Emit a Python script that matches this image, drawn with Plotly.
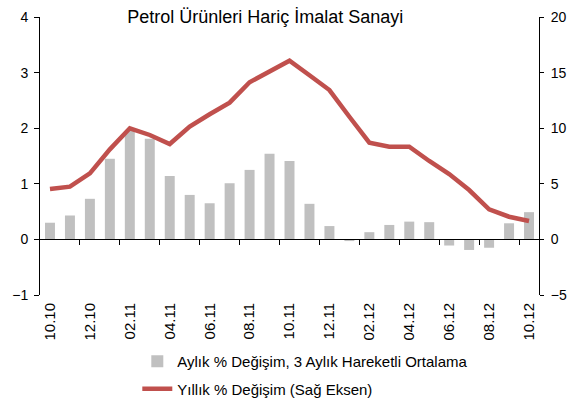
import plotly.graph_objects as go

months = ["10.10", "11.10", "12.10", "01.11", "02.11", "03.11", "04.11", "05.11", "06.11",
          "07.11", "08.11", "09.11", "10.11", "11.11", "12.11", "01.12", "02.12", "03.12",
          "04.12", "05.12", "06.12", "07.12", "08.12", "09.12", "10.12"]
monthly_ma = [0.30, 0.43, 0.73, 1.45, 1.95, 1.81, 1.14, 0.80, 0.65, 1.01, 1.25, 1.54, 1.41,
              0.64, 0.24, -0.03, 0.13, 0.26, 0.32, 0.31, -0.11, -0.19, -0.15, 0.29, 0.49]
annual = [4.53, 4.74, 5.94, 8.1, 9.99, 9.39, 8.58, 10.14, 11.25, 12.3, 14.13, 15.14, 16.07,
          14.76, 13.43, 11.03, 8.7, 8.34, 8.34, 7.05, 5.88, 4.44, 2.71, 2.04, 1.65]
tick_labels = months[::2]
boundary_ticks = [i + 0.5 for i in range(1, len(months) - 1, 2)]

font = "Liberation Sans, Arial, sans-serif"

fig = go.Figure()
fig.add_trace(go.Bar(x=months, y=monthly_ma, name="Aylık % Değişim, 3 Aylık Hareketli Ortalama",
                     marker=dict(color="#C0C0C0", line=dict(width=0)), yaxis="y",
                     legendgroup="a"))
fig.add_trace(go.Scatter(x=months, y=annual, name="Yıllık % Değişim (Sağ Eksen)", mode="lines",
                         line=dict(color="#C0504D", width=4.5), yaxis="y2", legendgroup="b"))
# invisible helper so the zero-level axis (xaxis2) is rendered
fig.add_trace(go.Scatter(x=[0], y=[0], xaxis="x2", yaxis="y", mode="markers",
                         marker=dict(opacity=0, size=1), showlegend=False, hoverinfo="skip"))

fig.update_layout(
    template="none",
    width=574, height=404,
    margin=dict(l=40, r=35, t=17, b=109, autoexpand=False),
    paper_bgcolor="white", plot_bgcolor="white",
    font=dict(family=font, size=14, color="black"),
    bargap=0.5,
    title=dict(text="Petrol Ürünleri Hariç İmalat Sanayi", x=0.462, xanchor="center",
               xref="container",
               y=0.958, yanchor="middle", font=dict(size=18, color="black", family=font)),
    xaxis=dict(type="category", range=[-0.5, len(months) - 0.5], tickmode="array",
               tickvals=tick_labels, ticktext=tick_labels, tickangle=-90, ticks="",
               ticklabelstandoff=4, automargin=False, tickfont=dict(size=15),
               showline=False, showgrid=False, zeroline=False),
    xaxis2=dict(type="linear", overlaying="x", anchor="free", position=0.2,
                range=[-0.5, len(months) - 0.5], automargin=False,
                tickmode="array", tickvals=boundary_ticks, ticks="outside", ticklen=5,
                tickcolor="black", showticklabels=False, showline=True, linecolor="black",
                linewidth=1, showgrid=False, zeroline=False),
    yaxis=dict(range=[-1, 4], dtick=1, ticks="outside", ticklen=5, showline=True,
               automargin=False, linecolor="black", tickcolor="black", showgrid=False,
               zeroline=False, ticklabelstandoff=3),
    yaxis2=dict(range=[-5, 20], dtick=5, overlaying="y", side="right", ticks="outside",
                automargin=False, ticklen=4, showline=True, linecolor="black",
                tickcolor="black", showgrid=False, zeroline=False, ticklabelstandoff=4),
    legend=dict(x=0.195, y=-0.18, xanchor="left", yanchor="top", orientation="v",
                tracegroupgap=5, font=dict(size=15, family=font), bgcolor="rgba(0,0,0,0)"),
    showlegend=True,
)

fig.write_html("out.html", config={"displayModeBar": False})

# remove default body margin so the figure sits at the page's top-left corner
with open("out.html", encoding="utf-8") as f:
    html = f.read()
html = html.replace("<head>", "<head><style>html,body{margin:0;padding:0;overflow:hidden}</style>", 1)
with open("out.html", "w", encoding="utf-8") as f:
    f.write(html)
